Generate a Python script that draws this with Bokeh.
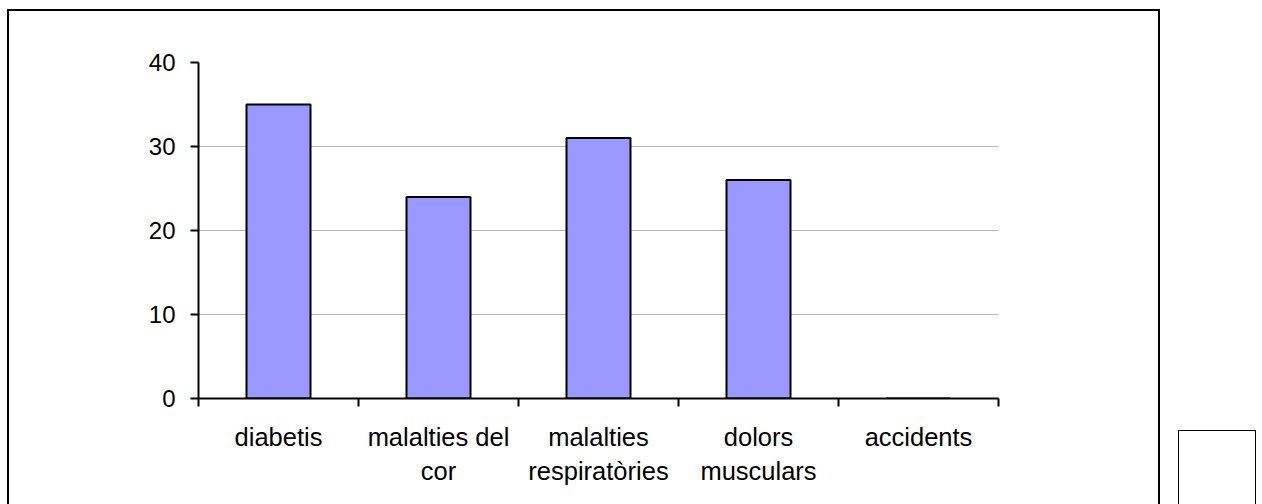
from bokeh.plotting import figure
from bokeh.models import Range1d, FixedTicker, LinearAxis, Grid, Div
from bokeh.layouts import row
from bokeh.embed import file_html
from bokeh.resources import INLINE

categories = ["diabetis", "malalties del cor", "malalties respiratòries", "dolors musculars", "accidents"]
tick_labels = ["diabetis", "malalties del\ncor", "malalties\nrespiratòries", "dolors\nmusculars", "accidents"]
values = [35, 24, 31, 26, 0]
y_ticks = [0, 10, 20, 30, 40]

n = len(categories)
centers = [i + 0.5 for i in range(n)]
bounds = list(range(n + 1))

FONT = "Liberation Sans"
W = 1153
H = 495

p = figure(width=W, height=H, output_backend="svg", toolbar_location=None,
           x_range=Range1d(0, n), y_range=Range1d(0, 40),
           x_axis_location=None, y_axis_location=None,
           min_border_left=189, min_border_right=W - 989, min_border_top=51,
           min_border_bottom=H - 387,
           margin=(9, 0, 0, 7),
           styles={"border-top": "2px solid black", "border-left": "2px solid black",
                   "border-right": "2px solid black"})
p.center = []
p.outline_line_color = None
p.background_fill_color = "white"
p.border_fill_color = "white"

yaxis = LinearAxis(ticker=FixedTicker(ticks=y_ticks))
yaxis.axis_line_color = "black"
yaxis.axis_line_width = 2
yaxis.major_tick_line_color = "black"
yaxis.major_tick_line_width = 2
yaxis.major_tick_out = 8
yaxis.major_tick_in = 0
yaxis.minor_tick_line_color = None
yaxis.major_label_text_font = FONT
yaxis.major_label_text_font_size = "24px"
yaxis.major_label_text_color = "black"
yaxis.major_label_standoff = 15
p.add_layout(yaxis, "left")

p.add_layout(Grid(dimension=1, ticker=yaxis.ticker, grid_line_color="#707070",
                  grid_line_dash="1 1", grid_line_width=1))

p.vbar(x=centers, top=values, bottom=0, width=0.4, fill_color="#9999FF",
       line_color="black", line_width=2)

xaxis_ticks = LinearAxis(ticker=FixedTicker(ticks=bounds))
xaxis_ticks.axis_line_color = "black"
xaxis_ticks.axis_line_width = 2
xaxis_ticks.major_tick_line_color = "black"
xaxis_ticks.major_tick_line_width = 2
xaxis_ticks.major_tick_out = 8
xaxis_ticks.major_tick_in = 0
xaxis_ticks.minor_tick_line_color = None
xaxis_ticks.major_label_overrides = {b: "" for b in bounds}
xaxis_ticks.major_label_text_font_size = "1px"
xaxis_ticks.major_label_standoff = 0
p.add_layout(xaxis_ticks, "below")

xaxis_lab = LinearAxis(ticker=FixedTicker(ticks=centers))
xaxis_lab.axis_line_color = None
xaxis_lab.major_tick_line_color = None
xaxis_lab.minor_tick_line_color = None
xaxis_lab.major_tick_out = 0
xaxis_lab.major_tick_in = 0
xaxis_lab.major_label_overrides = {c: lab for c, lab in zip(centers, tick_labels)}
xaxis_lab.major_label_text_font = FONT
xaxis_lab.major_label_text_font_size = "25.5px"
xaxis_lab.major_label_text_color = "black"
xaxis_lab.major_label_text_line_height = 1.22
xaxis_lab.major_label_standoff = 16
p.add_layout(xaxis_lab, "below")

legend_box = Div(text="", width=78, height=74, margin=(430, 0, 0, 18),
                 styles={"border-top": "1.5px solid black", "border-left": "1.5px solid black",
                         "border-right": "1.5px solid black", "background": "white"})

layout = row(p, legend_box)

open("out.html", "w").write(file_html(layout, INLINE))
